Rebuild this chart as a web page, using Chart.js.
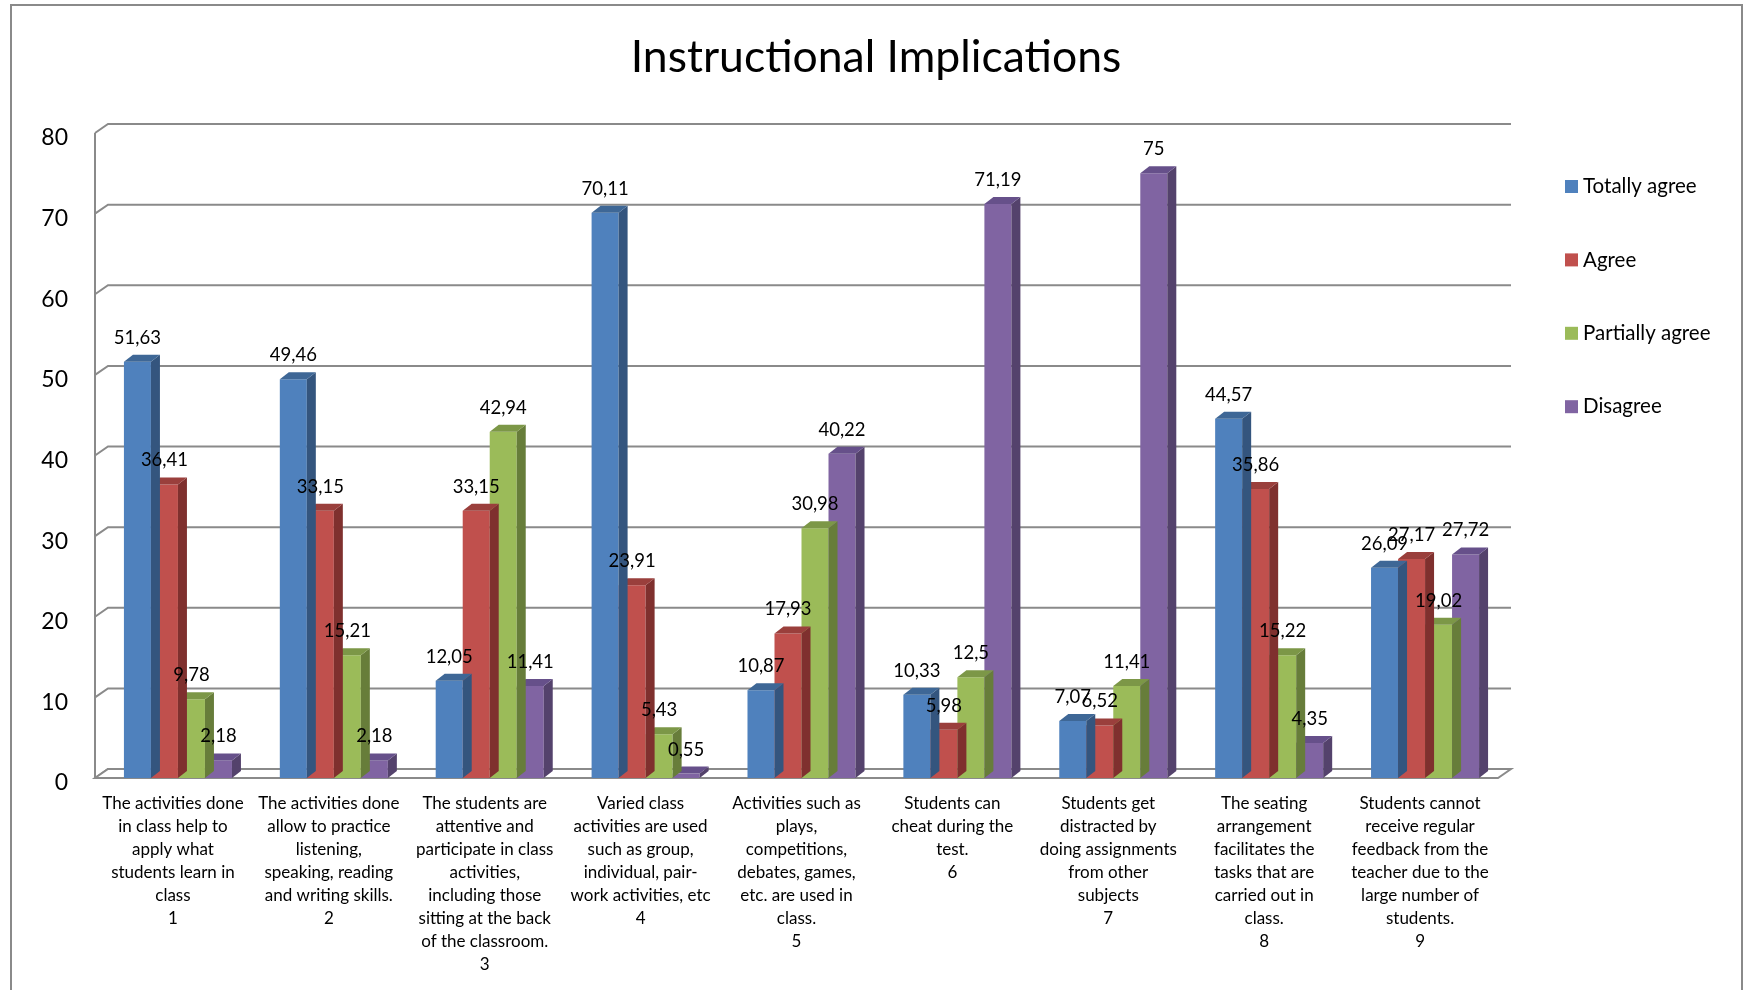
<html lang="en">
  <head>
    <meta charset="UTF-8" />
    <title>Instructional Implications</title>
    <style>
      body { margin: 0; background: #fff; }
      .container { width: 1748px; height: 990px; position: relative; }
    </style>
  </head>
  <body>
    <div class="container">
      <canvas id="myChart" width="1748" height="990"></canvas>
    </div>
  </body>
  <script src="https://cdn.jsdelivr.net/npm/chart.js@4"></script>
  <script>
    const chartTitle = "Instructional Implications";

    const categories = [
      ["The activities done", "in class help to", "apply what", "students learn in", "class", "1"],
      ["The activities done", "allow to practice", "listening,", "speaking, reading", "and writing skills.", "2"],
      ["The students are", "attentive and", "participate in class", "activities,", "including those", "sitting at the back", "of the classroom.", "3"],
      ["Varied class", "activities are used", "such as group,", "individual, pair-", "work activities, etc", "4"],
      ["Activities such as", "plays,", "competitions,", "debates, games,", "etc. are used in", "class.", "5"],
      ["Students can", "cheat during the", "test.", "6"],
      ["Students get", "distracted by", "doing assignments", "from other", "subjects", "7"],
      ["The seating", "arrangement", "facilitates the", "tasks that are", "carried out in", "class.", "8"],
      ["Students cannot", "receive regular", "feedback from the", "teacher due to the", "large number of", "students.", "9"],
    ];

    const seriesNames = ["Totally agree", "Agree", "Partially agree", "Disagree"];
    const totallyAgree = [51.63, 49.46, 12.05, 70.11, 10.87, 10.33, 7.07, 44.57, 26.09];
    const agree = [36.41, 33.15, 33.15, 23.91, 17.93, 5.98, 6.52, 35.86, 27.17];
    const partiallyAgree = [9.78, 15.21, 42.94, 5.43, 30.98, 12.5, 11.41, 15.22, 19.02];
    const disagree = [2.18, 2.18, 11.41, 0.55, 40.22, 71.19, 75, 4.35, 27.72];

    const yMin = 0, yMax = 80, yStep = 10;

    // front, side, top colours
    const colors = ["#4F81BD", "#C0504D", "#9BBB59", "#8064A2"];
    const sideColors = ["#34557E", "#7F302E", "#677D3A", "#54426C"];
    const topColors = ["#3E6796", "#9A3F3C", "#7C9747", "#66508A"];

    const depthX = 9, depthY = 7;      // bar depth
    const wallX = 13, wallY = 9;       // wall / floor depth
    const barShift = 5;                // bars sit a bit right of the category centre (3d perspective)
    const gridColor = "#8A8A8A";

    const fmt = (v) => String(v).replace(".", ",");

    // back wall, gridlines and floor drawn behind the bars
    const wallPlugin = {
      id: "wall3d",
      beforeDatasetsDraw(chart) {
        const { ctx, chartArea: a } = chart;
        const y = chart.scales.y;
        ctx.save();
        ctx.strokeStyle = gridColor;
        ctx.lineWidth = 2;
        y.ticks.forEach((t) => {
          const py = y.getPixelForValue(t.value);
          ctx.beginPath();
          ctx.moveTo(a.left, py);
          ctx.lineTo(a.left + wallX, py - wallY);
          ctx.lineTo(a.right + wallX, py - wallY);
          ctx.stroke();
        });
        // left wall edge
        ctx.beginPath();
        ctx.moveTo(a.left, a.top);
        ctx.lineTo(a.left, a.bottom);
        ctx.stroke();
        // floor
        ctx.beginPath();
        ctx.moveTo(a.left, a.bottom);
        ctx.lineTo(a.right, a.bottom);
        ctx.lineTo(a.right + wallX, a.bottom - wallY);
        ctx.lineTo(a.left + wallX, a.bottom - wallY);
        ctx.closePath();
        ctx.fillStyle = "#fff";
        ctx.fill();
        ctx.stroke();
        ctx.restore();
      },
    };

    // side and top faces of each bar, drawn right after its own dataset
    const barPlugin = {
      id: "bar3d",
      beforeDatasetDraw(chart) {
        chart.ctx.save();
        chart.ctx.translate(barShift, 0);
      },
      afterDatasetDraw(chart, args) {
        const { ctx } = chart;
        const i = args.index;
        args.meta.data.forEach((bar) => {
          const { x, y, base, width } = bar.getProps(["x", "y", "base", "width"], true);
          const l = x - width / 2, r = x + width / 2;
          ctx.fillStyle = sideColors[i];
          ctx.beginPath();
          ctx.moveTo(r, y);
          ctx.lineTo(r + depthX, y - depthY);
          ctx.lineTo(r + depthX, base - depthY);
          ctx.lineTo(r, base);
          ctx.closePath();
          ctx.fill();
          ctx.fillStyle = topColors[i];
          ctx.beginPath();
          ctx.moveTo(l, y);
          ctx.lineTo(l + depthX, y - depthY);
          ctx.lineTo(r + depthX, y - depthY);
          ctx.lineTo(r, y);
          ctx.closePath();
          ctx.fill();
        });
        ctx.restore();
      },
    };

    // values, title, legend and frame
    const textPlugin = {
      id: "texts",
      afterDraw(chart) {
        const { ctx } = chart;
        ctx.save();
        ctx.fillStyle = "#000";
        ctx.font = "18.5px Lato";
        ctx.textAlign = "center";
        ctx.textBaseline = "middle";
        chart.data.datasets.forEach((ds, i) => {
          chart.getDatasetMeta(i).data.forEach((bar, j) => {
            const { x, y } = bar.getProps(["x", "y"], true);
            ctx.fillText(fmt(ds.data[j]), x + barShift, y - 24);
          });
        });

        ctx.font = "44.5px Lato";
        ctx.textBaseline = "alphabetic";
        ctx.fillText(chartTitle, 876, 72);

        ctx.textAlign = "left";
        ctx.textBaseline = "middle";
        ctx.font = "20.5px Lato";
        chart.data.datasets.forEach((ds, i) => {
          const cy = 186.5 + i * 73.4;
          ctx.fillStyle = ds.backgroundColor;
          ctx.fillRect(1565, cy - 6.5, 13, 13);
          ctx.fillStyle = "#000";
          ctx.fillText(ds.label, 1583, cy);
        });

        ctx.strokeStyle = "#8A8A8A";
        ctx.lineWidth = 2;
        ctx.beginPath();
        ctx.moveTo(11, 995);
        ctx.lineTo(11, 5);
        ctx.lineTo(1742, 5);
        ctx.lineTo(1742, 995);
        ctx.stroke();
        ctx.restore();
      },
    };

    const series = [totallyAgree, agree, partiallyAgree, disagree];

    new Chart(document.getElementById("myChart"), {
      type: "bar",
      data: {
        labels: categories,
        datasets: series.map((d, i) => ({
          label: seriesNames[i],
          data: d,
          backgroundColor: colors[i],
          borderWidth: 0,
          barPercentage: 1,
          categoryPercentage: 0.693,
        })),
      },
      options: {
        responsive: false,
        animation: false,
        events: [],
        layout: { padding: { top: 133, right: 250, left: 0, bottom: 0 } },
        plugins: {
          legend: { display: false },
          title: { display: false },
          tooltip: { enabled: false },
        },
        scales: {
          x: {
            grid: { display: false },
            border: { display: false },
            ticks: {
              color: "#000",
              font: { family: "Lato", size: 17, lineHeight: 1.35 },
              padding: 6,
              maxRotation: 0,
              autoSkip: false,
            },
            afterFit(scale) { scale.height = 212; },
          },
          y: {
            min: yMin,
            max: yMax,
            grid: { display: false },
            border: { display: false },
            ticks: {
              stepSize: yStep,
              color: "#000",
              font: { family: "Lato", size: 23 },
              padding: 19,
              labelOffset: 5,
            },
            afterFit(scale) { scale.width = 95; },
          },
        },
      },
      plugins: [wallPlugin, barPlugin, textPlugin],
    });
  </script>
</html>
